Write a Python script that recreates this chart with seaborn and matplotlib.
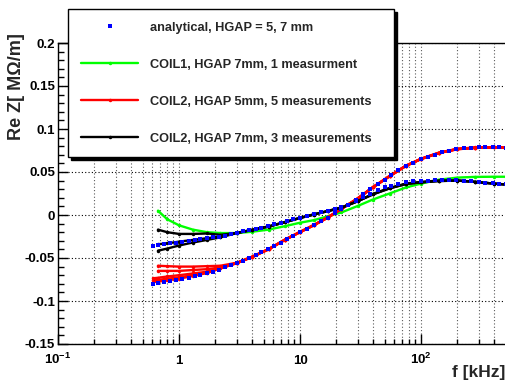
import numpy as np
import matplotlib
matplotlib.use("Agg")
import matplotlib.pyplot as plt
from matplotlib.lines import Line2D
from matplotlib.ticker import MultipleLocator, NullFormatter, LogLocator
import seaborn as sns

# analytical curves (dense), f in kHz, Re Z in MOhm/m
freq_ana = [0.61, 0.67, 0.75, 0.85, 0.95, 1.05, 1.2, 1.35, 1.5, 1.7,
            1.9, 2.15, 2.4, 2.7, 3.0, 3.4, 3.8, 4.3, 4.8, 5.4,
            6.1, 6.9, 7.8, 8.8, 10, 11.5, 13, 15, 17, 19.5,
            22, 25, 29, 33, 38, 44, 50, 57, 65, 75,
            86, 100, 115, 130, 150, 170, 195, 225, 260, 300,
            340, 390, 440, 500]
ana_5mm = [-0.080, -0.079, -0.078, -0.0765, -0.0755, -0.0745, -0.073, -0.0715, -0.070, -0.068,
           -0.066, -0.0635, -0.061, -0.058, -0.056, -0.053, -0.050, -0.047, -0.0435, -0.040,
           -0.036, -0.032, -0.028, -0.024, -0.020, -0.016, -0.012, -0.007, -0.003, 0.002,
           0.007, 0.012, 0.018, 0.024, 0.030, 0.036, 0.041, 0.046, 0.052, 0.057,
           0.061, 0.065, 0.068, 0.070, 0.073, 0.075, 0.0765, 0.0775, 0.078, 0.0785,
           0.0785, 0.0785, 0.0785, 0.078]
ana_7mm = [-0.0357, -0.035, -0.034, -0.033, -0.032, -0.031, -0.030, -0.029, -0.028, -0.027,
           -0.026, -0.025, -0.024, -0.022, -0.0205, -0.019, -0.0175, -0.016, -0.015, -0.013,
           -0.011, -0.009, -0.007, -0.005, -0.003, -0.001, 0.001, 0.003, 0.005, 0.007,
           0.009, 0.012, 0.016, 0.021, 0.025, 0.029, 0.032, 0.034, 0.036, 0.038,
           0.039, 0.0395, 0.040, 0.0403, 0.0405, 0.0405, 0.0403, 0.040, 0.039, 0.038,
           0.0375, 0.037, 0.036, 0.0355]

# measurements
freq_meas = [0.61, 0.67, 0.8, 1.0, 1.3, 1.7, 2.2, 3, 4, 5.5, 7.5, 10, 13,
             17, 22, 30, 40, 55, 75, 100, 140, 200, 280, 400, 500]
coil1_7mm = [np.nan, 0.005, -0.005, -0.012, -0.017, -0.020, -0.021, -0.021, -0.0195, -0.017, -0.013, -0.009, -0.006,
             -0.0015, 0.003, 0.0105, 0.018, 0.025, 0.032, 0.0365, 0.041, 0.0435, 0.0443, 0.0445, 0.0445]
coil2_5mm_m1 = [np.nan, -0.059, -0.0595, -0.060, -0.060, -0.0595, -0.059, -0.0555, -0.0485, -0.0395, -0.0285, -0.0195, -0.0115,
                -0.0025, 0.0075, 0.0195, 0.0325, 0.0455, 0.0575, 0.0655, 0.0725, 0.077, 0.0785, 0.079, 0.0785]
coil2_5mm_m2 = [np.nan, -0.065, -0.065, -0.065, -0.064, -0.063, -0.061, -0.0558, -0.0488, -0.0398, -0.0288, -0.0198, -0.0118,
                -0.0028, 0.0072, 0.0192, 0.0322, 0.0452, 0.0572, 0.0652, 0.0722, 0.0768, 0.0783, 0.0788, 0.0783]
coil2_5mm_m3 = [-0.0736, -0.073, -0.0715, -0.070, -0.068, -0.066, -0.0615, -0.0558, -0.0488, -0.0398, -0.0288, -0.0198, -0.0118,
                -0.0028, 0.0072, 0.0192, 0.0322, 0.0452, 0.0572, 0.0652, 0.0722, 0.0768, 0.0783, 0.0788, 0.0783]
coil2_5mm_m4 = [-0.076, -0.0755, -0.074, -0.0725, -0.070, -0.067, -0.062, -0.056, -0.049, -0.040, -0.029, -0.020, -0.012,
                -0.003, 0.007, 0.019, 0.032, 0.045, 0.057, 0.065, 0.072, 0.0765, 0.078, 0.0785, 0.078]
coil2_5mm_m5 = [-0.078, -0.0775, -0.076, -0.074, -0.071, -0.0675, -0.062, -0.056, -0.049, -0.040, -0.029, -0.020, -0.012,
                -0.003, 0.007, 0.019, 0.032, 0.045, 0.057, 0.065, 0.072, 0.0765, 0.078, 0.0785, 0.078]
coil2_7mm_m1 = [np.nan, -0.017, -0.020, -0.022, -0.022, -0.0215, -0.023, -0.021, -0.0175, -0.0135, -0.0085, -0.0035, 0.0005,
                0.0045, 0.0085, 0.016, 0.024, 0.031, 0.036, 0.038, 0.0395, 0.040, 0.0385, 0.0365, 0.0355]
coil2_7mm_m2 = [np.nan, -0.0415, -0.039, -0.0355, -0.032, -0.029, -0.026, -0.021, -0.0175, -0.0135, -0.0085, -0.0035, 0.0005,
                0.0045, 0.0085, 0.016, 0.024, 0.031, 0.036, 0.038, 0.0395, 0.040, 0.0385, 0.0365, 0.0355]
coil2_7mm_m3 = [np.nan, -0.034, -0.033, -0.031, -0.029, -0.027, -0.025, -0.0208, -0.0172, -0.0132, -0.0082, -0.0032, 0.0008,
                0.0048, 0.0088, 0.0162, 0.0245, 0.0315, 0.0365, 0.0385, 0.040, 0.0402, 0.0385, 0.0365, 0.0355]

legend_labels = ["analytical, HGAP = 5, 7 mm",
                 "COIL1, HGAP 7mm, 1 measurment",
                 "COIL2, HGAP 5mm, 5 measurements",
                 "COIL2, HGAP 7mm, 3 measurements"]
y_ticks = [-0.15, -0.1, -0.05, 0, 0.05, 0.1, 0.15, 0.2]
y_labels = ["-0.15", "-0.1", "-0.05", "0", "0.05", "0.1", "0.15", "0.2"]
x_ticks = [0.1, 1, 10, 100]
x_labels = [r"$10^{-1}$", "1", "10", r"$10^{2}$"]

sns.set_theme(style="ticks")
plt.rcParams["font.family"] = ["Liberation Sans", "DejaVu Sans"]
plt.rcParams["font.weight"] = "bold"
plt.rcParams["mathtext.fontset"] = "custom"
plt.rcParams["mathtext.rm"] = "Liberation Sans:bold"
plt.rcParams["mathtext.it"] = "Liberation Sans:bold"
plt.rcParams["mathtext.bf"] = "Liberation Sans:bold"

GREEN, RED, BLUE = "#00ff00", "#ff0000", "#0000ff"

fig = plt.figure(figsize=(5.06, 3.80), dpi=100)
ax = fig.add_axes([58 / 506, 1 - 344 / 380, (505.6 - 58) / 506, (344 - 43) / 380])

line_kw = dict(lw=1.7, marker="o", markersize=2.5, markeredgewidth=0, legend=False, ax=ax)
sns.lineplot(x=freq_meas, y=coil1_7mm, color=GREEN, **line_kw)
for run in [coil2_5mm_m1, coil2_5mm_m2, coil2_5mm_m3, coil2_5mm_m4, coil2_5mm_m5]:
    sns.lineplot(x=freq_meas, y=run, color=RED, **line_kw)
for run in [coil2_7mm_m1, coil2_7mm_m2, coil2_7mm_m3]:
    sns.lineplot(x=freq_meas, y=run, color="black", **line_kw)

for ana in [ana_5mm, ana_7mm]:
    sns.scatterplot(x=freq_ana, y=ana, marker="s", s=8, color=BLUE, linewidth=0, ax=ax, zorder=5)

ax.set_xscale("log")
ax.set_xlim(0.1, 500)
ax.set_ylim(-0.15, 0.2)
ax.set_xticks(x_ticks, labels=x_labels)
ax.xaxis.set_minor_locator(LogLocator(base=10, subs=np.arange(2, 10)))
ax.xaxis.set_minor_formatter(NullFormatter())
ax.set_yticks(y_ticks, labels=y_labels)
ax.yaxis.set_minor_locator(MultipleLocator(0.01))
ax.set_xlabel("")
ax.set_ylabel("")

ax.tick_params(axis="both", which="both", direction="in", top=False, right=False,
               width=1, colors="black", labelsize=9.5)
ax.tick_params(axis="y", which="major", length=7, pad=2)
ax.tick_params(axis="y", which="minor", length=4)
ax.tick_params(axis="x", which="major", length=7, pad=14.5)
ax.tick_params(axis="x", which="minor", length=3.5)
for lab in ax.get_xticklabels():
    lab.set_verticalalignment("baseline")

ax.grid(which="both", axis="x", ls=(0, (1, 2)), color="0.35", lw=0.8)
ax.grid(which="major", axis="y", ls=(0, (1, 2)), color="black", lw=0.8)
ax.set_axisbelow(True)
for side in ["left", "bottom", "top"]:
    ax.spines[side].set_color("black")
    ax.spines[side].set_linewidth(1)
ax.spines["right"].set_visible(False)

fig.text(17 / 506, 1 - 33 / 380, "Re Z[ M\u03a9/m]", rotation=90, ha="center", va="top",
         fontsize=13, fontweight="bold")
fig.text(505 / 506, 1 - 377 / 380, "f [kHz]", ha="right", va="baseline",
         fontsize=12.5, fontweight="bold")

handles = [Line2D([], [], color=BLUE, marker="s", ls="none", markersize=3, markeredgewidth=0),
           Line2D([], [], color=GREEN, lw=1.7, marker="o", markersize=2.5, markeredgewidth=0),
           Line2D([], [], color=RED, lw=1.7, marker="o", markersize=2.5, markeredgewidth=0),
           Line2D([], [], color="black", lw=1.7, marker="o", markersize=2.5, markeredgewidth=0)]
leg = ax.legend(handles, legend_labels, loc="upper left",
                bbox_to_anchor=(68 / 506, 1 - 156 / 380, (394 - 68) / 506, (156 - 9) / 380),
                bbox_transform=fig.transFigure, mode="expand", borderaxespad=0,
                frameon=True, fancybox=False, edgecolor="black", framealpha=1,
                shadow={"color": "black", "alpha": 1},
                prop={"size": 9.2, "weight": "bold"}, handlelength=4.5,
                handletextpad=0.95, labelspacing=1.95, borderpad=1.0)
leg.get_frame().set_linewidth(1.0)
leg.set_zorder(20)

fig.savefig("out.png", dpi=100)
